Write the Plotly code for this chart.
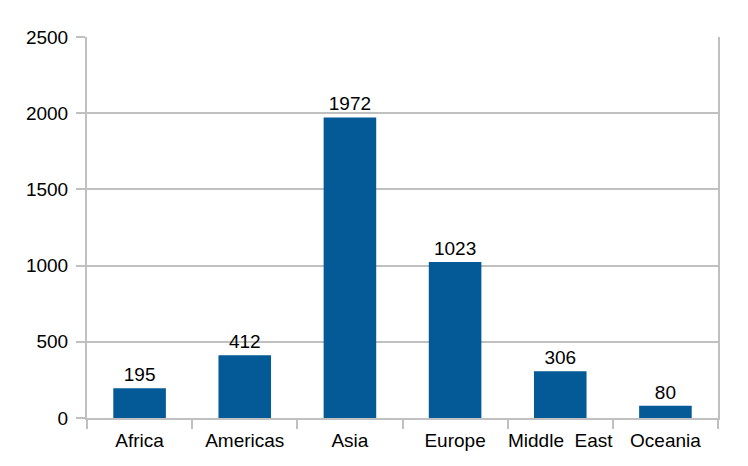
import plotly.graph_objects as go

regions = ["Africa", "Americas", "Asia", "Europe", "Middle\u00a0 East", "Oceania"]
values = [195, 412, 1972, 1023, 306, 80]
y_ticks = [0, 500, 1000, 1500, 2000, 2500]

FONT = "Liberation Sans, Arial, sans-serif"

fig = go.Figure(go.Bar(
    x=regions, y=values,
    marker=dict(color="#045A96", line=dict(width=0)),
    width=0.5,
    text=[str(v) for v in values], textposition="outside",
    textfont=dict(size=19, color="black", family=FONT),
    cliponaxis=False,
))

fig.update_layout(
    width=748, height=466,
    margin=dict(l=87, r=30, t=37, b=48, autoexpand=False),
    plot_bgcolor="white", paper_bgcolor="white",
    font=dict(family=FONT, size=19, color="black"),
    showlegend=False,
    bargap=0.5,
)
fig.update_xaxes(
    showline=True, linecolor="#c0c0c0", linewidth=2,
    ticks="outside", tickson="boundaries", ticklen=9, tickcolor="#c0c0c0", tickwidth=2,
    showgrid=False, tickfont=dict(size=19), ticklabelstandoff=4,
    tickangle=0, automargin=False,
)
fig.update_yaxes(
    range=[0, 2500], tickvals=y_ticks,
    showline=True, linecolor="#c0c0c0", linewidth=2, mirror=True,
    ticks="outside", ticklen=9, tickcolor="#c0c0c0", tickwidth=2,
    gridcolor="#c0c0c0", gridwidth=2, zeroline=False,
    tickfont=dict(size=19), ticklabelstandoff=4, automargin=False,
)

fig.write_html("out.html")
